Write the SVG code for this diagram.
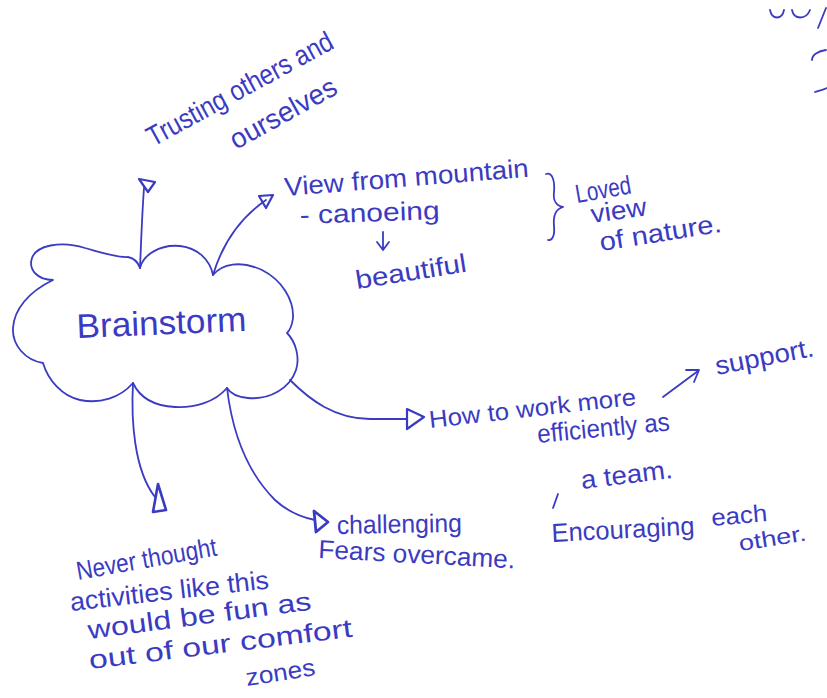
<svg xmlns="http://www.w3.org/2000/svg" width="827" height="698" viewBox="0 0 827 698">
<style>
.ink{fill:none;stroke:#3b3bc2;stroke-width:1.8;stroke-linecap:round;stroke-linejoin:round}
.hd{fill:none;stroke:#3b3bc2;stroke-width:2.2;stroke-linejoin:round}
.t{font-family:"Liberation Sans","DejaVu Sans",sans-serif;fill:#3b3bc2;font-size:26px}
</style>
<rect width="827" height="698" fill="#ffffff"/>
<g id="connectors">
<path class="ink" d="M140,268 C141,245 142,215 144,188"/>
<polygon class="hd" points="139,179 155,182 148,192"/>
<path class="ink" d="M213,275 C222,245 240,218 266,200"/>
<polygon class="hd" points="259,196 273,195 266,208"/>
<path class="ink" d="M290,380 C310,400 335,419 370,419 L407,419"/>
<polygon class="hd" points="407,409 424,417 407,429"/>
<path class="ink" d="M227,388 C232,430 245,470 275,500 C288,512 300,517 315,520"/>
<polygon class="hd" style="stroke-width:2.8" points="314,511 328,522 316,532"/>
<path class="ink" d="M133,383 C131,420 134,470 155,497"/>
<polygon class="hd" style="stroke-width:2.6" points="158,484 166,510 153,512"/>
<path class="ink" d="M663,397 L698,371 M686,370 L699,370 L694,382"/>
<path class="ink" d="M383,232 L383,250 M377,242 L383,250 L389,242"/>
<path class="ink" d="M546,174 C552,172 555,180 554,192 C553,200 556,206 563,207 C556,209 553,216 554,226 C555,236 552,241 548,240"/>
<path class="ink" d="M558,494 L553,508"/>
</g>
<g id="fragments">
<path class="ink" d="M770,10 C772,20 782,20 784,10 M792,10 C794,20 806,20 810,10 M818,28 L826,8 M826,50 C818,51 812,55 812,60 M827,88 C822,90 818,91 815,92"/>
</g>
<g id="brainstorm">
<path class="ink" d="M53,280 C38,280 28,270 32,258 C36,246 60,240 85,248 C100,252 118,258 128,257 C133,258 138,262 140,268 C143,255 160,244 180,246 C198,248 210,260 213,275 C222,264 240,260 262,270 C282,280 294,300 293,318 C292,326 290,330 287,333 C296,342 300,358 296,370 C290,388 270,400 248,398 C238,397 230,393 227,388 C215,402 195,408 175,407 C155,406 140,398 133,383 C120,398 100,404 80,400 C62,396 48,380 43,363 C25,360 12,345 13,328 C14,310 28,292 53,280 Z"/>
<text class="t" style="font-size:34px" x="77" y="338" textLength="170" lengthAdjust="spacingAndGlyphs" transform="rotate(-2.4 77 338)">Brainstorm</text>
</g>
<g id="trusting">
<text class="t" style="font-size:28px" x="153" y="147" textLength="208" lengthAdjust="spacingAndGlyphs" transform="rotate(-28.6 153 147)">Trusting others and</text>
<text class="t" style="font-size:28px" x="236" y="150" textLength="118" lengthAdjust="spacingAndGlyphs" transform="rotate(-29 236 150)">ourselves</text>
</g>
<g id="view">
<text class="t" x="285" y="196" textLength="245" lengthAdjust="spacingAndGlyphs" transform="rotate(-4.5 285 196)">View from mountain</text>
<text class="t" x="300" y="224" textLength="140" lengthAdjust="spacingAndGlyphs" transform="rotate(-2 300 224)">- canoeing</text>
<text class="t" x="357" y="289" textLength="112" lengthAdjust="spacingAndGlyphs" transform="rotate(-9 357 289)">beautiful</text>
</g>
<g id="loved">
<text class="t" x="577" y="203" textLength="56" lengthAdjust="spacingAndGlyphs" transform="rotate(-10 577 203)">Loved</text>
<text class="t" x="592" y="223" textLength="56" lengthAdjust="spacingAndGlyphs" transform="rotate(-8 592 223)">view</text>
<text class="t" x="601" y="251" textLength="123" lengthAdjust="spacingAndGlyphs" transform="rotate(-9 601 251)">of nature.</text>
</g>
<g id="team">
<text class="t" style="font-size:24px" x="430" y="428" textLength="208" lengthAdjust="spacingAndGlyphs" transform="rotate(-6.4 430 428)">How to work more</text>
<text class="t" x="538" y="443" textLength="133" lengthAdjust="spacingAndGlyphs" transform="rotate(-5.5 538 443)">efficiently as</text>
<text class="t" x="582" y="489" textLength="92" lengthAdjust="spacingAndGlyphs" transform="rotate(-7 582 489)">a team.</text>
</g>
<g id="support">
<text class="t" x="717" y="375" textLength="100" lengthAdjust="spacingAndGlyphs" transform="rotate(-11 717 375)">support.</text>
</g>
<g id="encouraging">
<text class="t" x="552" y="542" textLength="143" lengthAdjust="spacingAndGlyphs" transform="rotate(-3 552 542)">Encouraging</text>
<text class="t" style="font-size:24px" x="712" y="526" textLength="56" lengthAdjust="spacingAndGlyphs" transform="rotate(-5 712 526)">each</text>
<text class="t" style="font-size:22px" x="740" y="551" textLength="68" lengthAdjust="spacingAndGlyphs" transform="rotate(-9 740 551)">other.</text>
</g>
<g id="challenging">
<text class="t" x="337" y="534" textLength="125" lengthAdjust="spacingAndGlyphs" transform="rotate(-1 337 534)">challenging</text>
<text class="t" x="318" y="558" textLength="197" lengthAdjust="spacingAndGlyphs" transform="rotate(3 318 558)">Fears overcame.</text>
</g>
<g id="never">
<text class="t" x="78" y="580" textLength="142" lengthAdjust="spacingAndGlyphs" transform="rotate(-10 78 580)">Never thought</text>
<text class="t" x="71" y="611" textLength="200" lengthAdjust="spacingAndGlyphs" transform="rotate(-6.5 71 611)">activities like this</text>
<text class="t" x="89" y="639" textLength="225" lengthAdjust="spacingAndGlyphs" transform="rotate(-7.5 89 639)">would be fun as</text>
<text class="t" x="90" y="669" textLength="265" lengthAdjust="spacingAndGlyphs" transform="rotate(-7 90 669)">out of our comfort</text>
<text class="t" style="font-size:24px" x="247" y="686" textLength="70" lengthAdjust="spacingAndGlyphs" transform="rotate(-9 247 686)">zones</text>
</g>
</svg>
